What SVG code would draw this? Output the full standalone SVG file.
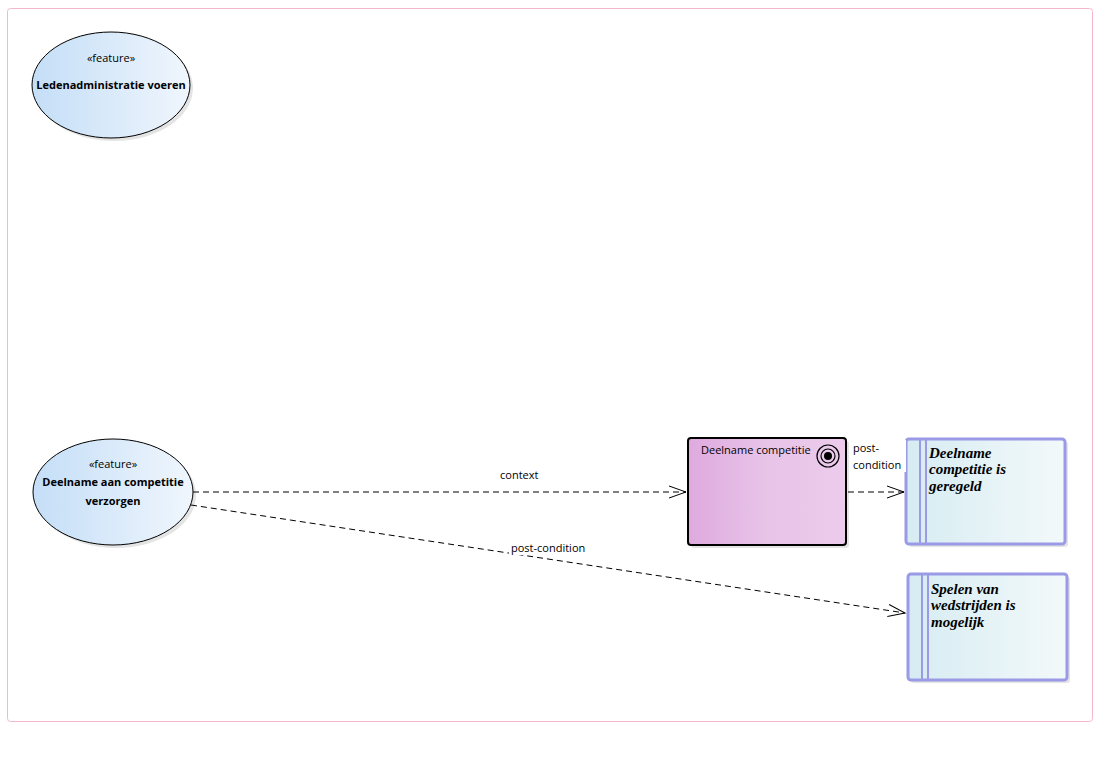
<svg xmlns="http://www.w3.org/2000/svg" width="1117" height="770" viewBox="0 0 1117 770">
<defs>
<linearGradient id="gBlue" x1="0" y1="0" x2="1" y2="0"><stop offset="0" stop-color="#c4def7"/><stop offset="1" stop-color="#f0f6fd"/></linearGradient>
<linearGradient id="gPink" x1="0" y1="0" x2="1" y2="0"><stop offset="0" stop-color="#deaade"/><stop offset="0.5" stop-color="#e8c4e8"/><stop offset="1" stop-color="#eccbec"/></linearGradient>
<linearGradient id="gCyan" x1="0" y1="0" x2="1" y2="0"><stop offset="0" stop-color="#d6ecf2"/><stop offset="1" stop-color="#f3f9fa"/></linearGradient>
<marker id="open" markerWidth="20" markerHeight="14" refX="18" refY="7" orient="auto" markerUnits="userSpaceOnUse"><path d="M1,1 L18,7 L1,13" fill="none" stroke="#000" stroke-width="1"/></marker>
<style>
.lbl{font-family:"Open Sans","Liberation Sans",sans-serif;font-size:11px;fill:#000}
.st{font-family:"Open Sans","Liberation Sans",sans-serif;font-size:11px;fill:#000;text-anchor:middle}
.nm{font-family:"Open Sans","Liberation Sans",sans-serif;font-size:11px;font-weight:bold;fill:#000;text-anchor:middle}
.goal{font-family:"Liberation Serif","DejaVu Serif",serif;font-size:15px;font-weight:bold;font-style:italic;fill:#000}
.conn{fill:none;stroke:#000;stroke-width:1;stroke-dasharray:6,4}
.shadow{fill:#e4e4e4}
.gbox{fill:url(#gCyan);stroke:#9a9ae6;stroke-width:3}
.gline{stroke:#9a9ae6;stroke-width:2}
</style>
</defs>
<rect x="7.5" y="8.5" width="1085" height="713" rx="3" fill="#fff" stroke="#f4b8c8" stroke-width="1"/>

<g id="feature1">
<ellipse cx="114" cy="88" rx="79" ry="53" class="shadow"/>
<ellipse cx="111" cy="85" rx="79" ry="53" fill="url(#gBlue)" stroke="#000" stroke-width="1"/>
<text class="st" x="111" y="62">«feature»</text>
<text class="nm" x="111" y="89">Ledenadministratie voeren</text>
</g>

<g id="feature2">
<ellipse cx="116" cy="495" rx="80" ry="53" class="shadow"/>
<ellipse cx="113" cy="492" rx="80" ry="53" fill="url(#gBlue)" stroke="#000" stroke-width="1"/>
<text class="st" x="113" y="468">«feature»</text>
<text class="nm" x="113" y="486">Deelname aan competitie</text>
<text class="nm" x="113" y="505">verzorgen</text>
</g>

<g id="goal-deelname">
<rect x="691" y="441" width="158" height="107" rx="3" class="shadow"/>
<rect x="688" y="438" width="158" height="107" rx="3" fill="url(#gPink)" stroke="#000" stroke-width="2"/>
<text class="lbl" x="701" y="454">Deelname competitie</text>
<circle cx="828" cy="456" r="11" fill="none" stroke="#000" stroke-width="1.2"/>
<circle cx="828" cy="456" r="7" fill="none" stroke="#000" stroke-width="1.2"/>
<circle cx="828" cy="456" r="4" fill="#000"/>
</g>

<g id="outcome1">
<rect x="909" y="442" width="159" height="105" rx="3" class="shadow"/>
<rect x="906" y="439" width="159" height="105" rx="3" class="gbox"/>
<line x1="920" y1="440" x2="920" y2="543" class="gline"/>
<line x1="926" y1="440" x2="926" y2="543" class="gline"/>
<text class="goal" x="929" y="458">Deelname</text>
<text class="goal" x="929" y="474">competitie is</text>
<text class="goal" x="929" y="491">geregeld</text>
</g>

<g id="outcome2">
<rect x="911" y="577" width="159" height="106" rx="3" class="shadow"/>
<rect x="908" y="574" width="159" height="106" rx="3" class="gbox"/>
<line x1="922" y1="575" x2="922" y2="679" class="gline"/>
<line x1="928" y1="575" x2="928" y2="679" class="gline"/>
<text class="goal" x="931" y="594">Spelen van</text>
<text class="goal" x="931" y="610">wedstrijden is</text>
<text class="goal" x="931" y="627">mogelijk</text>
</g>

<g id="connectors">
<line x1="193" y1="492" x2="686" y2="492" class="conn" marker-end="url(#open)"/>
<text class="lbl" x="500" y="479">context</text>
<line x1="848" y1="492" x2="904" y2="492" class="conn" marker-end="url(#open)"/>
<rect x="850" y="440" width="56" height="32" fill="#fff"/>
<text class="lbl" x="853" y="452">post-</text>
<text class="lbl" x="853" y="469">condition</text>
<line x1="191" y1="505" x2="905" y2="613" class="conn" marker-end="url(#open)"/>
<rect x="509" y="541" width="84" height="14" fill="#fff"/>
<text class="lbl" x="511" y="552">post-condition</text>
</g>
</svg>
